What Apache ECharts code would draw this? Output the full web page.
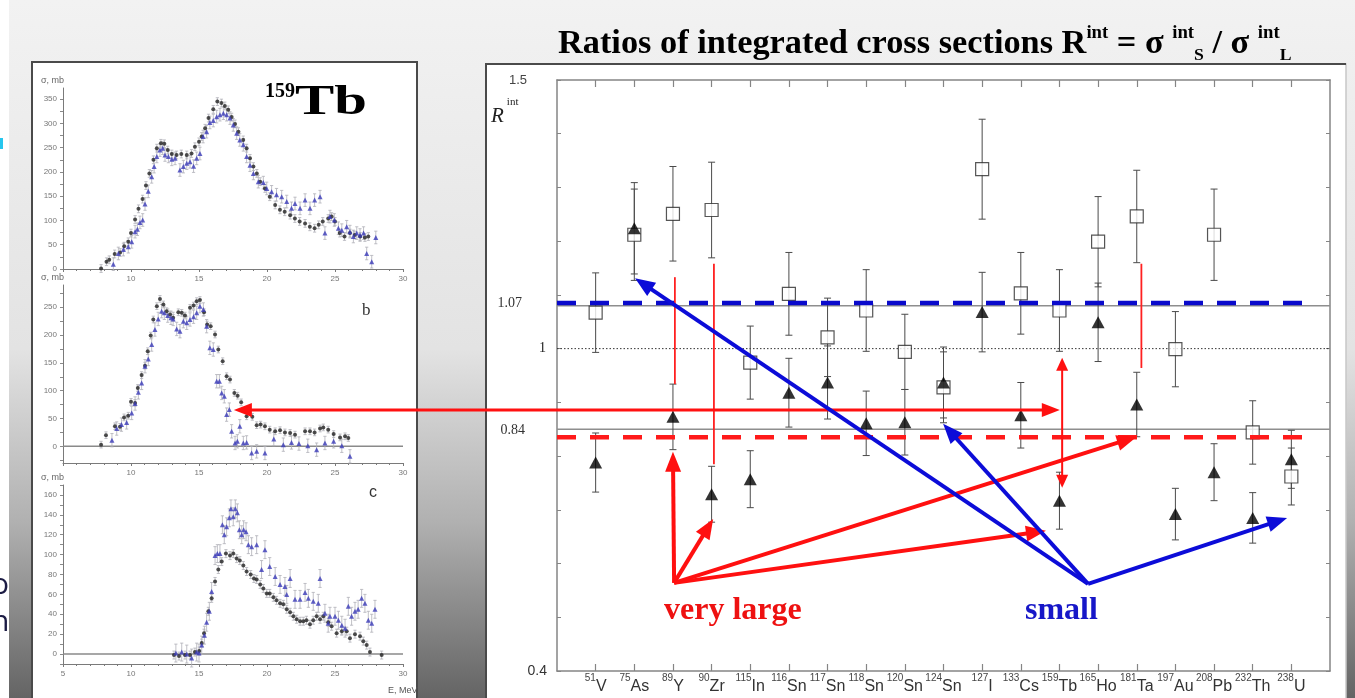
<!DOCTYPE html>
<html><head><meta charset="utf-8">
<script src="https://cdn.jsdelivr.net/npm/echarts@6/dist/echarts.min.js"></script>
<style>html,body{margin:0;padding:0;background:#fff;overflow:hidden}#c{width:1355px;height:698px}</style>
</head><body><div id="c"></div>
<script>
// ---------- main chart data ----------
const massNumbers = ['51','75','89','90','115','116','117','118','120','124','127','133','159','165','181','197','208','232','238'];
const elements = ['V','As','Y','Zr','In','Sn','Sn','Sn','Sn','Sn','I','Cs','Tb','Ho','Ta','Au','Pb','Th','U'];
const ratioSquare = [1.067,1.212,1.251,1.258,0.974,1.102,1.021,1.071,0.994,0.928,1.334,1.103,1.071,1.199,1.246,0.999,1.212,0.844,0.762];
const ratioSquareErr = [0.074,0.085,0.088,0.089,0.068,0.077,0.073,0.076,0.070,0.066,0.093,0.076,0.076,0.084,0.086,0.070,0.085,0.059,0.053];
const ratioTriangle = [0.788,1.224,0.873,0.729,0.757,0.918,0.937,0.861,0.863,0.937,1.068,0.876,0.717,1.049,0.896,0.692,0.770,0.685,0.794];
const ratioTriangleErr = [0.055,0.085,0.061,0.052,0.053,0.064,0.068,0.060,0.061,0.066,0.074,0.061,0.053,0.073,0.060,0.048,0.053,0.047,0.054];
const yLabelValues = [0.4, 0.84, 1, 1.07, 1.5];
const yTickValues = [0.4,0.5,0.6,0.7,0.8,0.9,1.0,1.1,1.2,1.3,1.4,1.5];
const xTickValues = [1,2,3,4,5,6,7,8,9,10,11,12,13,14,15,16,17,18,19];
// reference levels
const blueDashLevel = 1.085, redDashLevel = 0.835, grayHighLevel = 1.08, grayLowLevel = 0.85, unityLevel = 1.0;
// annotation arrows [x1,y1,x2,y2] in chart units
const redArrows = [[3.03,0.564,3.0,0.808],[3.03,0.564,4.04,0.683],[3.03,0.564,15.0,0.836],[3.03,0.564,12.65,0.661]];
const blueArrows = [[13.74,0.562,2.02,1.131],[13.74,0.562,9.99,0.860],[13.74,0.562,18.89,0.685]];
const redDoubleWide = [[-8.36,0.886,13.01,0.886]];
const redDoubleThin = [[13.07,0.983,13.07,0.741]];
const redMarks = [[3.05,1.133,3.05,0.934],[4.06,1.158,4.06,0.785],[15.12,1.158,15.12,0.964]];

// ---------- 159Tb cross sections (E MeV, sigma mb) ----------
const p1Black = [[7.8,1],[8.2,15],[8.4,19],[8.8,31],[9.2,34],[9.5,47],[9.8,56],[10.0,74],[10.3,102],[10.55,124],[10.85,144],[11.1,172],[11.35,197],[11.65,225],[11.9,249],[12.2,259],[12.45,258],[12.7,245],[13.0,237],[13.35,235],[13.7,237],[14.1,235],[14.45,238],[14.7,252],[15.0,262],[15.2,273],[15.45,290],[15.7,311],[16.05,329],[16.35,345],[16.65,342],[16.9,336],[17.15,328],[17.4,313],[17.65,299],[17.9,283],[18.25,266],[18.5,249],[18.75,228],[19.0,211],[19.25,197],[19.5,180],[19.85,166],[20.2,149],[20.6,132],[20.95,122],[21.3,118],[21.7,111],[22.05,104],[22.4,98],[22.8,94],[23.15,87],[23.5,84],[23.8,91],[24.1,98],[24.5,104],[24.75,108],[25.0,98],[25.35,74],[25.7,67],[26.1,74],[26.45,70],[26.85,67],[27.2,65],[27.45,67]];
const p1Blue = [[8.7,10],[9.07,32],[9.44,40],[9.8,46],[10.05,56],[10.3,77],[10.47,82],[10.66,96],[10.86,101],[11.03,134],[11.27,160],[11.52,190],[11.7,211],[11.9,232],[12.13,245],[12.33,249],[12.5,235],[12.75,232],[13.0,226],[13.24,228],[13.6,204],[13.85,211],[14.1,218],[14.34,221],[14.6,212],[14.83,228],[15.07,238],[15.3,273],[15.56,283],[15.8,302],[16.05,306],[16.3,314],[16.54,318],[16.79,321],[17.03,318],[17.28,311],[17.52,297],[17.77,280],[18.0,266],[18.26,256],[18.5,232],[18.75,214],[19.0,197],[19.36,180],[19.73,178],[19.98,166],[20.34,159],[20.7,153],[21.08,149],[21.45,139],[21.8,125],[22.06,135],[22.43,125],[22.8,142],[23.16,125],[23.5,142],[23.9,149],[24.26,74],[24.63,108],[24.95,101],[25.25,84],[25.5,80],[25.86,87],[26.1,77],[26.35,67],[26.6,74],[26.84,70],[27.1,74],[27.33,32],[27.7,15],[28.0,65]];
const p2Black = [[7.8,3],[8.16,20],[8.82,36],[9.19,35],[9.49,52],[9.8,55],[10.0,80],[10.3,78],[10.5,105],[10.78,128],[11.03,145],[11.23,171],[11.45,199],[11.64,228],[11.9,252],[12.13,265],[12.38,255],[12.62,243],[12.87,237],[13.1,231],[13.48,241],[13.73,240],[13.97,235],[14.34,249],[14.6,253],[14.83,261],[15.07,263],[15.37,241],[15.6,219],[15.86,216],[16.18,201],[16.42,174],[16.74,153],[17.03,126],[17.28,120],[17.6,96],[17.84,91],[18.1,79],[18.5,54],[18.92,53],[19.24,38],[19.53,39],[19.85,36],[20.2,30],[20.6,27],[20.96,29],[21.32,25],[21.7,24],[22.06,21],[22.8,27],[23.16,27],[23.5,25],[23.9,32],[24.14,34],[24.5,30],[24.9,22],[25.37,16],[25.74,18],[25.98,15]];
const p2Blue = [[8.6,11],[8.95,32],[9.3,39],[9.68,43],[10.05,60],[10.3,77],[10.54,97],[10.78,114],[11.03,144],[11.27,157],[11.52,183],[11.76,210],[12.0,229],[12.25,243],[12.45,240],[12.7,235],[12.94,231],[13.1,229],[13.36,211],[13.6,207],[13.85,225],[14.1,222],[14.34,228],[14.6,233],[14.83,240],[15.07,252],[15.32,246],[15.56,216],[15.8,177],[16.05,174],[16.3,117],[16.5,117],[16.67,96],[16.86,90],[17.03,57],[17.23,66],[17.4,27],[17.65,6],[17.82,9],[18.0,36],[18.26,6],[18.5,7],[18.87,-12],[19.24,-9],[19.85,-12],[20.5,13],[21.2,3],[21.8,7],[22.35,5],[23.0,1],[23.65,-6],[24.26,6],[24.9,9],[25.5,1],[26.1,-18]];
const p3Black = [[13.16,-1],[13.53,-2],[13.97,-1],[14.34,-1],[14.7,2],[15.02,3],[15.2,11],[15.37,21],[15.69,43],[15.93,56],[16.18,73],[16.42,85],[16.67,93],[16.98,101],[17.28,99],[17.52,101],[17.77,96],[18.0,94],[18.26,89],[18.5,83],[18.8,80],[19.04,76],[19.24,75],[19.5,70],[19.73,66],[19.98,61],[20.2,61],[20.47,57],[20.7,54],[20.96,51],[21.2,50],[21.45,45],[21.7,42],[21.94,38],[22.18,35],[22.43,33],[22.67,33],[22.9,34],[23.16,30],[23.4,34],[23.65,38],[23.9,35],[24.14,38],[24.5,32],[24.75,28],[25.12,21],[25.5,23],[25.86,23],[26.1,16],[26.47,20],[26.84,18],[27.08,13],[27.33,9],[27.57,2],[28.43,-1]];
const p3Blue = [[13.3,1],[13.73,2],[14.1,0],[14.46,-4],[14.83,2],[15.0,1],[15.2,9],[15.4,19],[15.56,32],[15.76,43],[15.93,63],[16.18,99],[16.35,101],[16.54,101],[16.72,130],[16.86,120],[17.03,128],[17.23,137],[17.35,146],[17.52,138],[17.67,146],[17.82,142],[17.97,125],[18.14,120],[18.28,125],[18.46,123],[18.63,110],[18.87,108],[19.24,110],[19.6,85],[19.85,105],[20.2,88],[20.6,78],[20.96,70],[21.32,68],[21.45,60],[21.7,76],[22.06,55],[22.43,55],[22.8,62],[23.04,56],[23.4,53],[23.77,51],[23.9,76],[24.26,41],[24.5,31],[24.63,38],[25.0,38],[25.25,34],[25.5,29],[25.74,26],[25.98,48],[26.22,38],[26.47,43],[26.7,45],[26.96,56],[27.2,51],[27.45,34],[27.7,31],[27.94,45]];
const p1Err = {black: 8, blue: 13};
const p2Err = {black: 6, blue: 12};
const p3Err = {black: 4, blue: 9};
const p1YLabels = [0,50,100,150,200,250,300,350];
const p2YLabels = [0,50,100,150,200,250];
const p3YLabels = [0,20,40,60,80,100,120,140,160];

function range(a, b, s) { const r = []; for (let v = a; v <= b + 1e-9; v += s) r.push(Math.round(v * 1000) / 1000); return r; }

const chart = echarts.init(document.getElementById('c'), null, {renderer: 'canvas'});

const SERIF = '"Liberation Serif","Times New Roman",serif';
const SANS = '"Liberation Sans",Arial,sans-serif';

function errBarRender(color, lw, hw) {
  return function (params, api) {
    const x = api.value(0), v = api.value(1), e = api.value(2);
    const t = api.coord([x, v + e]), b = api.coord([x, v - e]);
    const st = {stroke: color, lineWidth: lw};
    return {type: 'group', children: [
      {type: 'line', shape: {x1: t[0], y1: t[1], x2: b[0], y2: b[1]}, style: st},
      {type: 'line', shape: {x1: t[0] - hw, y1: t[1], x2: t[0] + hw, y2: t[1]}, style: st},
      {type: 'line', shape: {x1: b[0] - hw, y1: b[1], x2: b[0] + hw, y2: b[1]}, style: st}
    ]};
  };
}
function arrowRender(color, width, headLen, headW, startHead, endHead) {
  return function (params, api) {
    const p1 = api.coord([api.value(0), api.value(1)]);
    const p2 = api.coord([api.value(2), api.value(3)]);
    const dx = p2[0] - p1[0], dy = p2[1] - p1[1], len = Math.hypot(dx, dy);
    const ux = dx / len, uy = dy / len;
    const head = (tip, ax, ay) => ({type: 'polygon', shape: {points: [
      [tip[0], tip[1]],
      [tip[0] - ax * headLen - ay * headW, tip[1] - ay * headLen + ax * headW],
      [tip[0] - ax * headLen + ay * headW, tip[1] - ay * headLen - ax * headW]]}, style: {fill: color}});
    const s = startHead ? [p1[0] + ux * headLen * 0.7, p1[1] + uy * headLen * 0.7] : p1;
    const e = endHead ? [p2[0] - ux * headLen * 0.7, p2[1] - uy * headLen * 0.7] : p2;
    const children = [{type: 'line', shape: {x1: s[0], y1: s[1], x2: e[0], y2: e[1]}, style: {stroke: color, lineWidth: width}}];
    if (endHead) children.push(head(p2, ux, uy));
    if (startHead) children.push(head(p1, -ux, -uy));
    return {type: 'group', children};
  };
}

const smallAxisLine = {lineStyle: {color: '#7a7a7a', width: 1}};
function smallX(grid, showMin) {
  return {type: 'value', gridIndex: grid, min: 5, max: 30, interval: 5,
    axisLine: {onZero: false, ...smallAxisLine},
    axisTick: {show: true, inside: false, length: 3, lineStyle: {color: '#7a7a7a'}},
    minorTick: {show: true, splitNumber: 5, length: 2, lineStyle: {color: '#7a7a7a'}},
    axisLabel: {fontSize: 8, color: '#777', fontFamily: SANS, margin: 6, showMinLabel: showMin},
    splitLine: {show: false}};
}
function smallY(grid, min, max, labels, tickStep) {
  return {type: 'value', gridIndex: grid, min: min, max: max,
    name: 'σ, mb', nameLocation: 'end', nameGap: 3,
    nameTextStyle: {fontSize: 9, color: '#666', fontFamily: SANS, align: 'right', padding: [0, -1, 0, 0]},
    axisLine: {onZero: false, ...smallAxisLine},
    axisTick: {show: true, inside: false, length: 3, lineStyle: {color: '#8a8a8a'}, customValues: range(Math.ceil(min / tickStep) * tickStep, max, tickStep)},
    axisLabel: {fontSize: 8, color: '#777', fontFamily: SANS, margin: 6, customValues: labels},
    splitLine: {show: false}};
}
function smallSeries(x, y, data, err, color, symbol, size) {
  return [
    {type: 'custom', xAxisIndex: x, yAxisIndex: y, renderItem: errBarRender('#b0b0b8', 0.8, 1.6),
      data: data.map(d => [d[0], d[1], err]), z: 3, silent: true},
    {type: 'scatter', xAxisIndex: x, yAxisIndex: y, data: data, symbol: symbol, symbolSize: size,
      itemStyle: {color: color}, z: 4, silent: true}
  ];
}
function hline(x, y, level, from, to, style, z) {
  return {type: 'line', xAxisIndex: x, yAxisIndex: y, data: [[from, level], [to, level]], showSymbol: false,
    symbol: 'none', lineStyle: style, z: z, silent: true, animation: false};
}

const option = {
  animation: false,
  backgroundColor: '#ffffff',
  graphic: [
    {type: 'rect', z: -100, shape: {x: 9, y: 0, width: 1346, height: 698},
      style: {fill: new echarts.graphic.LinearGradient(0, 0, 0, 1, [
        {offset: 0, color: '#f2f2f2'}, {offset: 0.5, color: '#e3e3e3'},
        {offset: 0.75, color: '#b0b0b0'}, {offset: 1, color: '#646464'}])}},
    {type: 'rect', z: -90, shape: {x: 32, y: 62, width: 385, height: 660},
      style: {fill: '#ffffff', stroke: '#4a4a4a', lineWidth: 2}},
    {type: 'rect', z: -90, shape: {x: 486, y: 64, width: 860, height: 660},
      style: {fill: '#ffffff', stroke: '#c8c8c8', lineWidth: 1.5}},
    {type: 'polyline', z: -85, shape: {points: [[486, 700], [486, 64], [1346, 64]]},
      style: {stroke: '#4a4a4a', lineWidth: 2, fill: null}},
    {type: 'rect', z: -80, shape: {x: 0, y: 138, width: 3, height: 11}, style: {fill: '#26c6ee'}},
    {type: 'text', z: 10, x: -9, y: 570, style: {text: 'o', font: '30px "Open Sans",sans-serif', fill: '#1c1c44'}},
    {type: 'text', z: 10, x: -9, y: 607, style: {text: 'n', font: '30px "Open Sans",sans-serif', fill: '#1c1c44'}},
    {type: 'text', z: 50, x: 558, y: 24, scaleX: 1.04, style: {
      text: 'Ratios of integrated cross sections R{sup|int} = σ {sup|int}{sub|S} / σ {sup|int}{sub|L}',
      font: 'bold 33px ' + SERIF, fill: '#000', lineHeight: 40,
      rich: {
        sup: {fontSize: 18, fontWeight: 'bold', fontFamily: SERIF, lineHeight: 31, verticalAlign: 'top'},
        sub: {fontSize: 17, fontWeight: 'bold', fontFamily: SERIF, lineHeight: 25, verticalAlign: 'bottom'}
      }}},
    {type: 'text', z: 50, x: 491, y: 97, style: {
      text: '{r|R}{i|int}', fill: '#222', lineHeight: 30,
      rich: {
        r: {fontSize: 21, fontStyle: 'italic', fontFamily: SERIF, lineHeight: 30, verticalAlign: 'bottom'},
        i: {fontSize: 11, fontFamily: SERIF, lineHeight: 16, verticalAlign: 'top', padding: [0, 0, 0, 3]}
      }}},
    {type: 'text', z: 50, x: 265, y: 82, style: {text: '159', font: 'bold 20px ' + SERIF, fill: '#000'}},
    {type: 'text', z: 50, x: 295, y: 82, scaleX: 1.4, style: {text: 'Tb', font: 'bold 42px ' + SERIF, fill: '#000'}},
    {type: 'text', z: 50, x: 362, y: 302, style: {text: 'b', font: '17px ' + SERIF, fill: '#333'}},
    {type: 'text', z: 50, x: 369, y: 485, style: {text: 'c', font: '16px ' + SANS, fill: '#333'}},
    {type: 'text', z: 60, x: 388, y: 686, style: {text: 'E, MeV', font: '9px ' + SANS, fill: '#555'}},
    {type: 'text', z: 50, x: 664, y: 595, style: {text: 'very large', font: 'bold 32px ' + SERIF, fill: '#ee1111'}},
    {type: 'text', z: 50, x: 1025, y: 595, style: {text: 'small', font: 'bold 32px ' + SERIF, fill: '#1717c8'}}
  ],
  grid: [
    {left: 557, top: 80, width: 773, height: 591},
    {left: 63, top: 88, width: 340, height: 181},
    {left: 63, top: 285, width: 340, height: 178},
    {left: 63, top: 485, width: 340, height: 179}
  ],
  xAxis: [
    {type: 'value', gridIndex: 0, min: 0, max: 20, position: 'bottom',
      axisLine: {onZero: false, lineStyle: {color: '#858585', width: 1.5}},
      axisTick: {show: true, inside: true, length: 7, lineStyle: {color: '#858585', width: 1.2}, customValues: xTickValues},
      axisLabel: {customValues: xTickValues, margin: 2, color: '#333',
        formatter: v => { const i = Math.round(v) - 1; return '{s|' + massNumbers[i] + '}{e|' + elements[i] + '}'; },
        rich: {
          s: {fontSize: 10, fontFamily: SANS, color: '#444', lineHeight: 12, verticalAlign: 'top'},
          e: {fontSize: 16, fontFamily: SANS, color: '#333', lineHeight: 22, verticalAlign: 'bottom'}
        }},
      splitLine: {show: false}},
    {type: 'value', gridIndex: 0, min: 0, max: 20, position: 'top',
      axisLine: {onZero: false, lineStyle: {color: '#858585', width: 1.5}},
      axisTick: {show: true, inside: true, length: 7, lineStyle: {color: '#858585', width: 1.2}, customValues: xTickValues},
      axisLabel: {show: false}, splitLine: {show: false}},
    smallX(1, false), smallX(2, false), smallX(3, true)
  ],
  yAxis: [
    {type: 'value', gridIndex: 0, min: 0.4, max: 1.5, position: 'left',
      axisLine: {onZero: false, lineStyle: {color: '#858585', width: 1.5}},
      axisTick: {show: true, inside: true, length: 4, lineStyle: {color: '#858585'}, customValues: yTickValues},
      axisLabel: {customValues: yLabelValues, margin: 10,
        formatter: v => {
          if (Math.abs(v - 1.5) < 1e-6) return '{a|1.5}';
          if (Math.abs(v - 1.07) < 1e-6) return '{b|1.07}';
          if (Math.abs(v - 1) < 1e-6) return '{c|1}';
          if (Math.abs(v - 0.84) < 1e-6) return '{d|0.84}';
          return '{e|0.4}';
        },
        rich: {
          a: {fontSize: 13, fontFamily: SANS, color: '#444', padding: [0, 20, 0, 0]},
          b: {fontSize: 14, fontFamily: SERIF, color: '#333', padding: [0, 25, 16, 0]},
          c: {fontSize: 14, fontFamily: SERIF, color: '#222', padding: [0, 1, 0, 0]},
          d: {fontSize: 14, fontFamily: SERIF, color: '#333', padding: [0, 22, 9, 0]},
          e: {fontSize: 14, fontFamily: SANS, color: '#333', padding: [0, 0, 0, 0]}
        }},
      splitLine: {show: false}},
    {type: 'value', gridIndex: 0, min: 0.4, max: 1.5, position: 'right',
      axisLine: {onZero: false, lineStyle: {color: '#858585', width: 1.5}},
      axisTick: {show: true, inside: true, length: 4, lineStyle: {color: '#858585'}, customValues: yTickValues},
      axisLabel: {show: false}, splitLine: {show: false}},
    smallY(1, 0, 373, p1YLabels, 25),
    smallY(2, -30, 290, p2YLabels, 25),
    smallY(3, -10, 170, p3YLabels, 10)
  ],
  series: [
    hline(3, 3, 0, 5, 30, {color: '#8a8a8a', width: 1.5}, 2),
    hline(4, 4, 0, 5, 30, {color: '#8a8a8a', width: 1.5}, 2),
    ...smallSeries(2, 2, p1Black, p1Err.black, '#222', 'circle', 4),
    ...smallSeries(2, 2, p1Blue, p1Err.blue, '#3a3ab8', 'triangle', 5),
    ...smallSeries(3, 3, p2Black, p2Err.black, '#222', 'circle', 4),
    ...smallSeries(3, 3, p2Blue, p2Err.blue, '#3a3ab8', 'triangle', 5),
    ...smallSeries(4, 4, p3Black, p3Err.black, '#222', 'circle', 4),
    ...smallSeries(4, 4, p3Blue, p3Err.blue, '#3a3ab8', 'triangle', 5),
    hline(0, 0, grayHighLevel, 0, 20, {color: '#8e8e8e', width: 1.5}, 2),
    hline(0, 0, grayLowLevel, 0, 20, {color: '#8e8e8e', width: 1.5}, 2),
    hline(0, 0, unityLevel, 0, 20, {color: '#333', width: 1, type: [1.5, 2]}, 2),
    {type: 'custom', xAxisIndex: 0, yAxisIndex: 0, renderItem: errBarRender('#4a4a4a', 1, 3.5),
      data: ratioSquare.map((v, i) => [i + 1, v, ratioSquareErr[i]]), z: 3, silent: true},
    {type: 'custom', xAxisIndex: 0, yAxisIndex: 0, renderItem: errBarRender('#4a4a4a', 1, 3.5),
      data: ratioTriangle.map((v, i) => [i + 1, v, ratioTriangleErr[i]]), z: 3, silent: true},
    {type: 'scatter', xAxisIndex: 0, yAxisIndex: 0, data: ratioSquare.map((v, i) => [i + 1, v]),
      symbol: 'rect', symbolSize: 13, itemStyle: {color: '#ffffff', borderColor: '#2a2a2a', borderWidth: 1.2}, z: 4, silent: true},
    {type: 'scatter', xAxisIndex: 0, yAxisIndex: 0, data: ratioTriangle.map((v, i) => [i + 1, v]),
      symbol: 'triangle', symbolSize: [13, 12], itemStyle: {color: '#000000'}, z: 5, silent: true},
    hline(0, 0, blueDashLevel, 0, 19.61, {color: '#0a0acc', width: 4.5, type: [19, 14]}, 6),
    hline(0, 0, redDashLevel, 0, 19.61, {color: '#ff1a1a', width: 4.5, type: [19, 14]}, 6),
    {type: 'custom', xAxisIndex: 0, yAxisIndex: 0, renderItem: arrowRender('#ff2020', 1.8, 0, 0, false, false),
      data: redMarks, z: 7, silent: true, clip: false},
    {type: 'custom', xAxisIndex: 0, yAxisIndex: 0, renderItem: arrowRender('#ff1010', 3, 18, 7, true, true),
      data: redDoubleWide, z: 7, silent: true, clip: false},
    {type: 'custom', xAxisIndex: 0, yAxisIndex: 0, renderItem: arrowRender('#ff1010', 2, 13, 6, true, true),
      data: redDoubleThin, z: 7, silent: true, clip: false},
    {type: 'custom', xAxisIndex: 0, yAxisIndex: 0, renderItem: arrowRender('#ff1010', 4, 20, 8, false, true),
      data: redArrows, z: 8, silent: true, clip: false},
    {type: 'custom', xAxisIndex: 0, yAxisIndex: 0, renderItem: arrowRender('#0c0cd8', 4, 20, 8, false, true),
      data: blueArrows, z: 8, silent: true, clip: false}
  ]
};
chart.setOption(option);
</script>
</body></html>
